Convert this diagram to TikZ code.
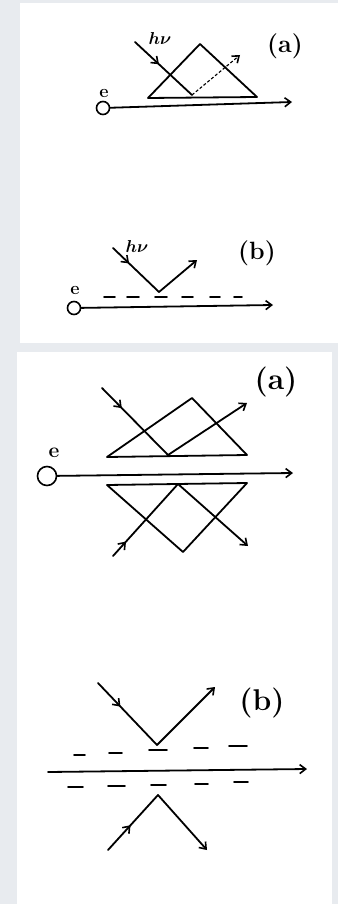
\documentclass[tikz,border=0pt]{standalone}
\usetikzlibrary{arrows.meta,decorations.markings}
\definecolor{bgc}{HTML}{E8EBEF}
\begin{document}
\begin{tikzpicture}[x=1pt,y=-1pt,
  ink/.style={line width=1.8pt, line cap=round, line join=round},
  tip/.style={-{Straight Barb[length=6pt,width=9pt,line width=1.6pt]}},
  midtip/.style={postaction={decorate},decoration={markings,
     mark=at position #1 with {\arrow{Straight Barb[length=6pt,width=9pt,line width=1.6pt]}}}},
  elec/.style={circle, draw, line width=1.6pt, inner sep=0pt, minimum size=#1},
  lbl/.style={font=\bfseries\boldmath\fontsize{18}{18}\selectfont, inner sep=0pt},
  biglbl/.style={font=\bfseries\fontsize{#1}{#1}\selectfont, inner sep=0pt},
  dsh/.style={line width=1.9pt, line cap=round}
]
\useasboundingbox (0,0) rectangle (338,904);
\fill[bgc] (0,0) rectangle (338,904);
\fill[white] (20,3) rectangle (338,343);
\fill[white] (17,352) rectangle (332,904);

% ---------- panel 1 (a)
\node[elec=13pt] (e1) at (103,108) {};
\node[lbl] (e1l) at (104,93) {e};
\coordinate (e1end) at (292,102);
\draw[ink,tip] (e1) -- (e1end);
\coordinate (t1l) at (148,98);
\coordinate (t1a) at (200,44);
\coordinate (t1r) at (257,97);
\draw[ink] (t1l) -- (t1a) -- (t1r) -- cycle;
\coordinate (p1s) at (135,42);
\coordinate (p1r) at (192,95);
\coordinate (p1e) at (240,55);
\draw[ink,midtip=0.42] (p1s) -- (p1r);
\draw[line width=1.1pt,densely dashed,tip] (p1r) -- (p1e);
\node[lbl] (hv1) at (160,39) {$h\nu$};
\node[biglbl=25] (la1) at (285,46) {(a)};

% ---------- panel 1 (b)
\node[elec=13pt] (e2) at (74,308) {};
\node[lbl] (e2l) at (75,290) {e};
\coordinate (e2end) at (273,305);
\draw[ink,tip] (e2) -- (e2end);
\coordinate (p2s) at (113,248);
\coordinate (p2r) at (159,292);
\coordinate (p2e) at (197,260);
\draw[ink,midtip=0.35] (p2s) -- (p2r);
\draw[ink,tip] (p2r) -- (p2e);
\foreach \xa/\xb in {104/115,127/139,155/167,182/193,210/220,234/242}
  \draw[dsh] (\xa,297) -- (\xb,297);
\node[lbl] (hv2) at (137,246) {$h\nu$};
\node[biglbl=25] (lb1) at (257,253) {(b)};

% ---------- panel 2 (a)
\node[elec=19pt] (e3) at (47,476) {};
\node[biglbl=21] (e3l) at (54,453) {e};
\coordinate (e3end) at (293,473);
\draw[ink,tip] (e3) -- (e3end);
\coordinate (u1l) at (107,457);
\coordinate (u1a) at (192,398);
\coordinate (u1r) at (247,455);
\draw[ink] (u1l) -- (u1a) -- (u1r) -- cycle;
\coordinate (d1l) at (107,485);
\coordinate (d1a) at (183,552);
\coordinate (d1r) at (247,483);
\draw[ink] (d1l) -- (d1a) -- (d1r) -- cycle;
\coordinate (q1s) at (102,388);
\coordinate (q1r) at (168,455);
\coordinate (q1e) at (247,403);
\draw[ink,midtip=0.3] (q1s) -- (q1r);
\draw[ink,tip] (q1r) -- (q1e);
\coordinate (q2s) at (113,556);
\coordinate (q2r) at (178,484);
\coordinate (q2e) at (248,546);
\draw[ink,midtip=0.2] (q2s) -- (q2r);
\draw[ink,tip] (q2r) -- (q2e);
\node[biglbl=30] (la2) at (276,382) {(a)};

% ---------- panel 2 (b)
\coordinate (b2s) at (48,772);
\coordinate (b2e) at (307,769);
\draw[ink,tip] (b2s) -- (b2e);
\coordinate (r1s) at (98,683);
\coordinate (r1r) at (157,745);
\coordinate (r1e) at (215,687);
\draw[ink,midtip=0.38] (r1s) -- (r1r);
\draw[ink,tip] (r1r) -- (r1e);
\coordinate (r2s) at (108,850);
\coordinate (r2r) at (158,795);
\coordinate (r2e) at (207,850);
\draw[ink,midtip=0.45] (r2s) -- (r2r);
\draw[ink,tip] (r2r) -- (r2e);
\foreach \xa/\xb/\yy in {74/85/755,109/122/753,149/167/750,194/208/748,229/247/746}
  \draw[dsh] (\xa,\yy) -- (\xb,\yy);
\foreach \xa/\xb/\yy in {68/83/787,108/125/786,151/166/785,195/208/784,234/248/782}
  \draw[dsh] (\xa,\yy) -- (\xb,\yy);
\node[biglbl=30] (lb2) at (262,703) {(b)};
\end{tikzpicture}
\end{document}
